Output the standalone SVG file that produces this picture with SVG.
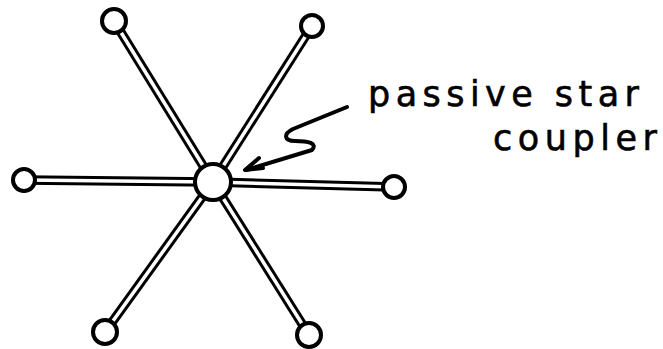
<svg xmlns="http://www.w3.org/2000/svg" width="663" height="349" viewBox="0 0 663 349">
<style>
.rod{stroke:#000;stroke-width:9.5;fill:none}
.rodin{stroke:#fff;stroke-width:3.5;fill:none}
.node{fill:#fff;stroke:#000;stroke-width:4}
.lbl{font-family:"DejaVu Sans",sans-serif;font-size:35px;fill:#000;stroke:#000;stroke-width:0.6}
.arr{fill:none;stroke:#000;stroke-width:4;stroke-linecap:round;stroke-linejoin:round}
</style>
<rect width="663" height="349" fill="#fff"/>
<g id="connectors">
<line class="rod" x1="213" y1="182" x2="114" y2="21"/>
<line class="rod" x1="213" y1="182" x2="312" y2="26"/>
<line class="rod" x1="213" y1="182" x2="24" y2="180"/>
<line class="rod" x1="213" y1="182" x2="394" y2="187"/>
<line class="rod" x1="213" y1="182" x2="105" y2="332"/>
<line class="rod" x1="213" y1="182" x2="309" y2="335"/>
<line class="rodin" x1="213" y1="182" x2="114" y2="21"/>
<line class="rodin" x1="213" y1="182" x2="312" y2="26"/>
<line class="rodin" x1="213" y1="182" x2="24" y2="180"/>
<line class="rodin" x1="213" y1="182" x2="394" y2="187"/>
<line class="rodin" x1="213" y1="182" x2="105" y2="332"/>
<line class="rodin" x1="213" y1="182" x2="309" y2="335"/>
</g>
<g id="coupler"><circle class="node" cx="213" cy="182" r="18"/></g>
<g id="n-topleft"><circle class="node" cx="114" cy="21" r="12"/></g>
<g id="n-topright"><circle class="node" cx="312" cy="26" r="11"/></g>
<g id="n-left"><circle class="node" cx="24" cy="180" r="11"/></g>
<g id="n-right"><circle class="node" cx="394" cy="187" r="11"/></g>
<g id="n-bottomleft"><circle class="node" cx="105" cy="332" r="12"/></g>
<g id="n-bottomright"><circle class="node" cx="309" cy="335" r="12"/></g>
<g id="label">
<path class="arr" d="M347,107 L293,129 C283,134 284,141 295,141 C308,141 318,143 312,150 L246,170"/>
<path class="arr" d="M259,158 L245,170 L263,168"/>
<text class="lbl" x="368" y="106" textLength="271" lengthAdjust="spacing">passive star</text>
<text class="lbl" x="493" y="150" textLength="164" lengthAdjust="spacing">coupler</text>
</g>
</svg>
